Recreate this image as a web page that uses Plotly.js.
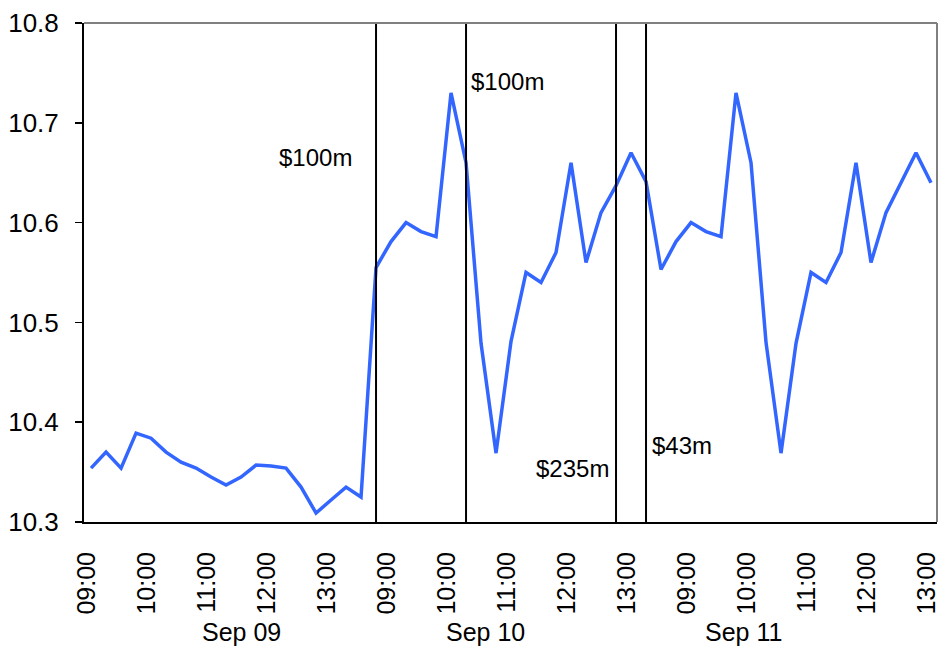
<!DOCTYPE html>
<html>
<head>
<meta charset="utf-8">
<script src="https://cdn.plot.ly/plotly-3.0.1.min.js"></script>
<style>
html,body{margin:0;padding:0;background:#fff;}
#chart{width:942px;height:650px;}
</style>
</head>
<body>
<div id="chart"></div>
<script>
// Price series, 15-minute steps across three sessions
const prices = [
  10.354, 10.370, 10.354, 10.389, 10.384, 10.370, 10.360, 10.354, 10.345, 10.337,
  10.345, 10.357, 10.356, 10.354, 10.335, 10.309, 10.322, 10.335, 10.325,
  10.555, 10.581, 10.600, 10.591, 10.586, 10.730, 10.660, 10.479, 10.369, 10.481,
  10.550, 10.540, 10.570, 10.660, 10.560, 10.610, 10.637, 10.670, 10.641,
  10.553, 10.581, 10.600, 10.591, 10.586, 10.730, 10.660, 10.480, 10.369, 10.479,
  10.550, 10.540, 10.570, 10.660, 10.560, 10.610, 10.640, 10.670, 10.640
];
const tickIndex = [0, 4, 8, 12, 16, 20, 24, 28, 32, 36, 40, 44, 48, 52, 56];
const tickLabels = ["09:00","10:00","11:00","12:00","13:00",
                    "09:00","10:00","11:00","12:00","13:00",
                    "09:00","10:00","11:00","12:00","13:00"];
const dayLabels = ["Sep 09", "Sep 10", "Sep 11"];
const dayCenters = [10, 26.3, 43.5];
const eventIndex = [19, 25, 35, 37];
const eventLabels = ["$100m", "$100m", "$235m", "$43m"];
const eventLabelY = [10.665, 10.741, 10.354, 10.377];

const xs = prices.map((_, i) => i);
const FONT = "Liberation Sans, Arial, sans-serif";

const trace = {
  x: xs, y: prices, type: "scatter", mode: "lines",
  line: {color: "#3366FF", width: 3.5},
  hoverinfo: "skip", showlegend: false
};

const shapes = eventIndex.map(i => ({
  type: "line", xref: "x", yref: "paper", x0: i, x1: i, y0: 0, y1: 1,
  line: {color: "#000", width: 2}
}));
shapes.push({type:"line", xref:"paper", yref:"paper", x0:0, x1:1, y0:1, y1:1, line:{color:"#808080", width:2}});
shapes.push({type:"line", xref:"paper", yref:"paper", x0:1, x1:1, y0:0, y1:1, line:{color:"#808080", width:2}});

const sides = ["right", "left", "right", "left"];
const shifts = [-22, 3, -5, 4];
const annotations = eventIndex.map((i, k) => ({
  x: i, y: eventLabelY[k], xref: "x", yref: "y", text: eventLabels[k],
  showarrow: false, xanchor: sides[k], yanchor: "middle", xshift: shifts[k],
  font: {family: FONT, size: 24, color: "#000"}
}));
dayLabels.forEach((d, k) => annotations.push({
  x: dayCenters[k], y: -0.22, xref: "x", yref: "paper", text: d,
  showarrow: false, xanchor: "center", yanchor: "middle",
  font: {family: FONT, size: 25, color: "#000"}
}));

const layout = {
  width: 942, height: 650,
  margin: {l: 84, r: 5, t: 23, b: 128},
  paper_bgcolor: "#fff", plot_bgcolor: "#fff",
  font: {family: FONT, size: 24, color: "#000"},
  xaxis: {
    range: [-0.47, 56.4], tickmode: "array", tickvals: tickIndex, ticktext: tickLabels,
    tickangle: -90, ticks: "", showgrid: false, zeroline: false,
    showline: true, linecolor: "#000", linewidth: 2, ticklabeloverflow: "allow",
    ticklabelshift: -4,
    tickfont: {family: FONT, size: 25, color: "#000"}, ticklabelstandoff: 18
  },
  yaxis: {
    range: [10.3, 10.8], tickvals: [10.3, 10.4, 10.5, 10.6, 10.7, 10.8],
    ticktext: ["10.3","10.4","10.5","10.6","10.7","10.8"],
    ticks: "outside", ticklen: 7, tickwidth: 1.5, tickcolor: "#000",
    showgrid: false, zeroline: false, showline: true, linecolor: "#000", linewidth: 2,
    tickfont: {family: FONT, size: 26, color: "#000"}, ticklabelstandoff: 11
  },
  shapes: shapes,
  annotations: annotations
};

Plotly.newPlot("chart", [trace], layout, {displayModeBar: false, staticPlot: true});
</script>
</body>
</html>
